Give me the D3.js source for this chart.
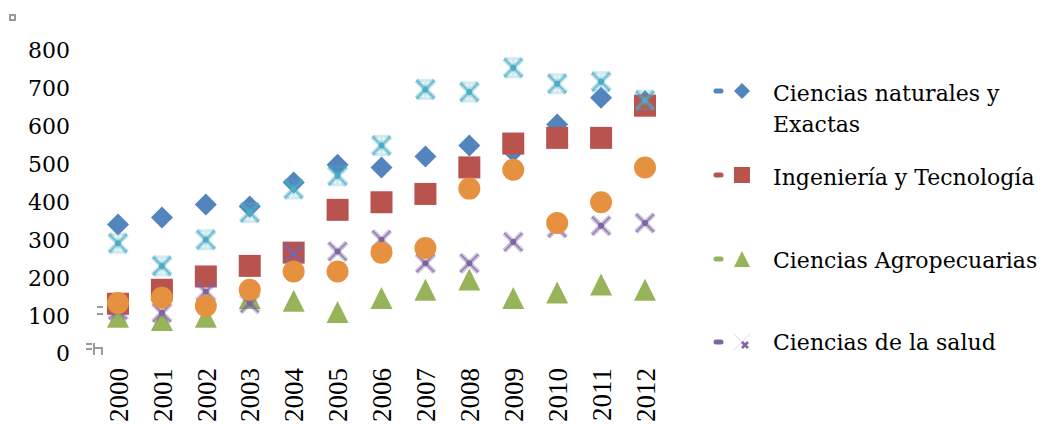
<!DOCTYPE html>
<html>
<head>
<meta charset="utf-8">
<script src="https://cdn.jsdelivr.net/npm/d3@7"></script>
<style>
  html, body { margin: 0; padding: 0; background: #fff; }
  svg { display: block; }
</style>
</head>
<body>
<svg id="chart" width="1042" height="426"></svg>
<script>
// Years on the horizontal axis
const years = ["2000","2001","2002","2003","2004","2005","2006","2007","2008","2009","2010","2011","2012"];
const yTicks = [0, 100, 200, 300, 400, 500, 600, 700, 800];

// Values per knowledge area
const naturales     = [339, 358, 392, 387, 450, 497, 490, 519, 548, 532, 603, 674, 665];
const ingenieria    = [130, 167, 202, 230, 265, 378, 398, 420, 490, 553, 568, 568, 653];
const agropecuarias = [ 96,  87,  96, 145, 138, 108, 145, 167, 194, 145, 160, 181, 167];
const salud         = [113, 106, 162, 131, 263, 268, 299, 237, 237, 293, 330, 336, 343];
const sociales      = [290, 230, 299, 371, 433, 468, 548, 696, 689, 753, 711, 716, 667];
const humanidades   = [132, 146, 124, 167, 215, 215, 265, 277, 434, 484, 343, 398, 490];

const seriesNames = ["Ciencias naturales y Exactas", "Ingeniería y Tecnología",
                     "Ciencias Agropecuarias", "Ciencias de la salud"];

const series = [
  { values: naturales,     color: "#5384bd", shape: "diamond" },
  { values: ingenieria,    color: "#b9534e", shape: "square" },
  { values: agropecuarias, color: "#97b45a", shape: "triangle" },
  { values: salud,         color: "#8064a2", shape: "cross" },
  { values: sociales,      color: "#4bacc6", shape: "star" },
  { values: humanidades,   color: "#e6913f", shape: "circle" }
];

const svg = d3.select("#chart");

const x = d3.scalePoint().domain(years).range([118, 645]);
const y = d3.scaleLinear().domain([0, 800]).range([353, 50]);

// Y axis labels
const yAxis = svg.append("g")
  .attr("transform", "translate(70,0)")
  .call(d3.axisLeft(y).tickValues(yTicks).tickSize(0).tickPadding(0).tickFormat(d3.format("d")));
yAxis.select(".domain").remove();
yAxis.selectAll("text")
  .attr("font-family", "'DejaVu Serif', serif")
  .attr("font-size", 22)
  .attr("fill", "#000")
  .attr("dy", "0.36em");

// X axis labels, rotated
const xAxis = svg.append("g")
  .attr("transform", "translate(0,368)")
  .call(d3.axisBottom(x).tickSize(0).tickPadding(0));
xAxis.select(".domain").remove();
xAxis.selectAll("text")
  .attr("font-family", "'Liberation Serif', serif")
  .attr("font-size", 27)
  .attr("fill", "#000")
  .attr("text-anchor", "end")
  .attr("transform", "rotate(-90)")
  .attr("x", 0)
  .attr("y", 0)
  .attr("dy", "0.34em");

// Marker drawing
function drawMarker(g, shape, color, s) {
  const h = s / 2;
  if (shape === "diamond") {
    g.append("path").attr("d", `M0,${-h}L${h},0L0,${h}L${-h},0Z`).attr("fill", color);
  } else if (shape === "square") {
    g.append("rect").attr("x", -h).attr("y", -h).attr("width", s).attr("height", s).attr("fill", color);
  } else if (shape === "triangle") {
    g.append("path").attr("d", `M0,${-h}L${h},${h}L${-h},${h}Z`).attr("fill", color);
  } else if (shape === "circle") {
    g.append("circle").attr("r", h).attr("fill", color);
  } else if (shape === "cross" || shape === "star") {
    const k = h - 2;
    g.append("path")
      .attr("d", `M${-k},${-k}L${k},${k}M${k},${-k}L${-k},${k}`)
      .attr("stroke", color).attr("stroke-opacity", 0.4)
      .attr("stroke-width", 5).attr("fill", "none");
    if (shape === "star") {
      g.append("path")
        .attr("d", `M${-k},${-k}L${k},${-k}M${-k},${k}L${k},${k}M0,${-k}L0,${k}`)
        .attr("stroke", color).attr("stroke-opacity", 0.25)
        .attr("stroke-width", 3).attr("fill", "none");
    }
    g.append("path")
      .attr("d", `M${-k},${-k}L${k},${k}M${k},${-k}L${-k},${k}`)
      .attr("stroke", color).attr("stroke-opacity", 0.75)
      .attr("stroke-width", 1.5).attr("fill", "none");
    g.append("circle").attr("r", 3).attr("fill", color);
  }
}

// Data points
series.forEach(sr => {
  const grp = svg.append("g");
  sr.values.forEach((v, i) => {
    const g = grp.append("g").attr("transform", `translate(${x(years[i])},${y(v)})`);
    drawMarker(g, sr.shape, sr.color, 22);
  });
});

// Legend
const legendRows = [
  { lines: ["Ciencias naturales y", "Exactas"], yMid: 91,  base: 101 },
  { lines: ["Ingeniería y Tecnología"],          yMid: 175, base: 185 },
  { lines: ["Ciencias Agropecuarias"],           yMid: 259, base: 268 },
  { lines: ["Ciencias de la salud"],             yMid: 342, base: 350 }
];
const legend = svg.append("g");
legendRows.forEach((row, i) => {
  const sr = series[i];
  legend.append("line")
    .attr("x1", 716).attr("x2", 721)
    .attr("y1", row.yMid).attr("y2", row.yMid)
    .attr("stroke", sr.color).attr("stroke-width", 5).attr("stroke-linecap", "round");
  const g = legend.append("g").attr("transform", `translate(742,${row.yMid})`);
  if (sr.shape === "cross") {
    g.append("path").attr("d", "M-8,-8L8,8M8,-8L-8,8")
      .attr("stroke", sr.color).attr("stroke-opacity", 0.25).attr("stroke-width", 1);
    g.append("path").attr("d", "M0,0L6,6M6,0L0,6")
      .attr("stroke", sr.color).attr("stroke-width", 2.5);
  } else {
    drawMarker(g, sr.shape, sr.color, 16);
  }
  const t = legend.append("text")
    .attr("x", 773).attr("y", row.base)
    .attr("font-family", "'DejaVu Serif', serif")
    .attr("font-size", 22)
    .attr("fill", "#000");
  row.lines.forEach((ln, j) => {
    t.append("tspan").attr("x", 773).attr("dy", j === 0 ? 0 : 31).text(ln);
  });
});

// Small grey handle marks near the plot corner
const marks = svg.append("g").attr("fill", "#9a9a9a");
marks.append("rect").attr("x", 9).attr("y", 14).attr("width", 7).attr("height", 7);
marks.append("rect").attr("x", 11).attr("y", 16).attr("width", 3).attr("height", 3).attr("fill", "#fff");
marks.append("rect").attr("x", 97).attr("y", 306).attr("width", 6).attr("height", 2);
marks.append("rect").attr("x", 97).attr("y", 313).attr("width", 6).attr("height", 2);
marks.append("rect").attr("x", 86).attr("y", 343).attr("width", 6).attr("height", 2);
marks.append("rect").attr("x", 86).attr("y", 348).attr("width", 6).attr("height", 2);
marks.append("path").attr("d", "M94,343V355M94,348H102V355").attr("stroke", "#9a9a9a").attr("stroke-width", 2).attr("fill", "none");
</script>
</body>
</html>
